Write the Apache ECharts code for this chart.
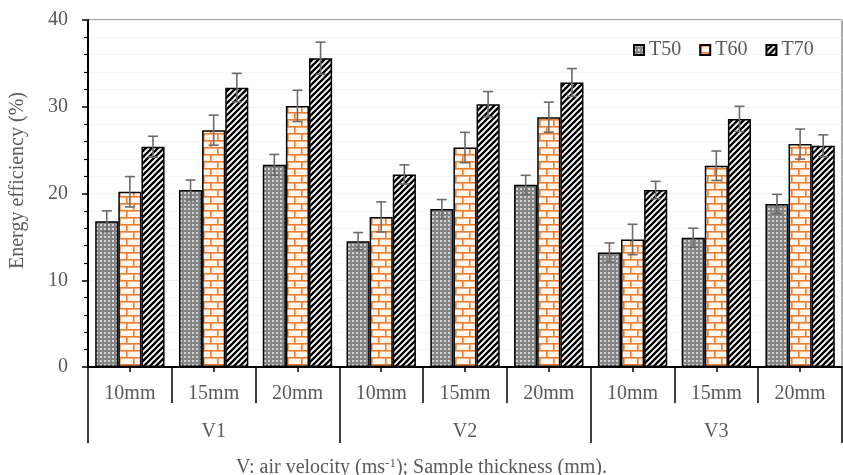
<!DOCTYPE html>
<html>
<head>
<meta charset="utf-8">
<script src="https://cdn.jsdelivr.net/npm/echarts@6/dist/echarts.min.js"></script>
<style>
  html, body { margin: 0; padding: 0; background: #fff; }
  #chart { width: 843px; height: 475px; }
</style>
</head>
<body>
<div id="chart"></div>
<script>
// categories
const thickness = ['10mm', '15mm', '20mm', '10mm', '15mm', '20mm', '10mm', '15mm', '20mm'];
const velocity = ['V1', 'V2', 'V3'];
const seriesNames = ['T50', 'T60', 'T70'];

// energy efficiency (%)
const t50 = [16.8, 20.4, 23.3, 14.5, 18.2, 21.0, 13.2, 14.9, 18.8];
const t60 = [20.2, 27.3, 30.1, 17.3, 25.3, 28.8, 14.7, 23.2, 25.7];
const t70 = [25.4, 32.2, 35.6, 22.2, 30.3, 32.8, 20.4, 28.6, 25.5];

// error bars (+/-)
const e50 = [1.2, 1.15, 1.2, 1.0, 1.1, 1.1, 1.1, 1.1, 1.1];
const e60 = [1.75, 1.73, 1.8, 1.73, 1.75, 1.73, 1.75, 1.7, 1.73];
const e70 = [1.2, 1.65, 1.85, 1.1, 1.45, 1.6, 1.0, 1.45, 1.26];

const yTicks = [0, 10, 20, 30, 40];

const textColor = '#595959';
const font = '"Liberation Serif", "Times New Roman", serif';

function tile(w, h, draw) {
    const c = document.createElement('canvas');
    c.width = w;
    c.height = h;
    draw(c.getContext('2d'), w, h);
    return c;
}

// dotted grey
const dots = tile(4, 4, (ctx, w, h) => {
    ctx.fillStyle = '#858585';
    ctx.fillRect(0, 0, w, h);
    ctx.fillStyle = '#d2d2d2';
    ctx.fillRect(0, 0, 2, 2);
});

// orange brick
const brick = tile(14, 14, (ctx, w, h) => {
    ctx.fillStyle = '#fff6ee';
    ctx.fillRect(0, 0, w, h);
    ctx.fillStyle = '#ed7d31';
    ctx.fillRect(0, 0, w, 1.6);
    ctx.fillRect(0, 7, w, 1.6);
    ctx.fillRect(0, 0, 1.6, 7);
    ctx.fillRect(7, 7, 1.6, 7);
});

// wide upward diagonal
const stripes = tile(6, 6, (ctx, w, h) => {
    ctx.fillStyle = '#fff';
    ctx.fillRect(0, 0, w, h);
    ctx.strokeStyle = '#000';
    ctx.lineWidth = 2.3;
    ctx.beginPath();
    ctx.moveTo(-2, 2); ctx.lineTo(2, -2);
    ctx.moveTo(0, h); ctx.lineTo(w, 0);
    ctx.moveTo(w - 2, h + 2); ctx.lineTo(w + 2, h - 2);
    ctx.stroke();
});

const fills = [dots, brick, stripes];
const values = [t50, t60, t70];
const errors = [e50, e60, e70];
const barFrac = 0.276;

const barSeries = seriesNames.map((name, k) => ({
    name: name,
    type: 'bar',
    xAxisIndex: 0,
    barWidth: (barFrac * 100) + '%',
    barGap: '0%',
    data: values[k],
    itemStyle: {
        color: { image: fills[k], repeat: 'repeat' },
        borderColor: '#000',
        borderWidth: 1.5
    },
    z: 2
}));

const errorSeries = seriesNames.map((name, k) => ({
    name: name + ' err',
    type: 'custom',
    xAxisIndex: 0,
    z: 5,
    silent: true,
    data: values[k].map((v, i) => [i, v, errors[k][i]]),
    renderItem: function (params, api) {
        const bw = api.size([1, 0])[0] * barFrac;
        const c = api.coord([api.value(0), api.value(1)]);
        const x = c[0] + (k - 1) * bw;
        const hi = api.coord([api.value(0), api.value(1) + api.value(2)])[1];
        const lo = api.coord([api.value(0), api.value(1) - api.value(2)])[1];
        const cap = 5;
        const style = { stroke: '#6b6b6b', lineWidth: 1.6 };
        return {
            type: 'group',
            children: [
                { type: 'line', shape: { x1: x, y1: hi, x2: x, y2: lo }, style: style },
                { type: 'line', shape: { x1: x - cap, y1: hi, x2: x + cap, y2: hi }, style: style },
                { type: 'line', shape: { x1: x - cap, y1: lo, x2: x + cap, y2: lo }, style: style }
            ]
        };
    }
}));

const hiddenLine = { show: true, lineStyle: { color: '#000', width: 0, opacity: 0 } };

const option = {
    animation: false,
    backgroundColor: '#fff',
    textStyle: { fontFamily: font },
    title: {
        text: '{a|V: air velocity (ms}{s|-1}{a|); Sample thickness (mm).}',
        left: 'center',
        top: 452,
        textStyle: {
            fontWeight: 'normal',
            rich: {
                a: { fontFamily: font, fontSize: 20, fontWeight: 'normal', color: textColor, lineHeight: 22 },
                s: { fontFamily: font, fontSize: 13, fontWeight: 'normal', color: textColor, padding: [0, 0, 9, 0] }
            }
        }
    },
    legend: {
        data: seriesNames,
        left: 628,
        top: 35,
        itemWidth: 10,
        itemHeight: 10,
        itemGap: 18,
        icon: 'rect',
        textStyle: { fontFamily: font, fontSize: 20, color: textColor }
    },
    grid: {
        left: 83,
        right: 1,
        top: 20,
        bottom: 108,
        show: true,
        borderColor: '#555',
        borderWidth: 1
    },
    xAxis: [{
        type: 'category',
        data: thickness,
        position: 'bottom',
        axisLine: { lineStyle: { color: '#000', width: 2 } },
        axisTick: { show: true, alignWithLabel: true, length: 5, lineStyle: { color: '#000', width: 1.5 } },
        axisLabel: { fontFamily: font, fontSize: 20, color: textColor, margin: 17 },
        splitLine: { show: false }
    }, {
        type: 'category',
        data: thickness,
        position: 'bottom',
        axisLine: hiddenLine,
        axisTick: { show: true, interval: 0, length: 36, lineStyle: { color: '#000', width: 1.5 } },
        axisLabel: { show: false }
    }, {
        type: 'category',
        data: velocity,
        position: 'bottom',
        axisLine: hiddenLine,
        axisTick: { show: true, interval: 0, length: 76, lineStyle: { color: '#000', width: 1.5 } },
        axisLabel: { fontFamily: font, fontSize: 20, color: textColor, margin: 55 }
    }],
    yAxis: {
        type: 'value',
        min: yTicks[0],
        max: yTicks[yTicks.length - 1],
        interval: 10,
        name: 'Energy efficiency (%)',
        nameLocation: 'middle',
        nameGap: 60,
        nameTextStyle: { fontFamily: font, fontSize: 20, color: textColor, padding: [0, 0, 0, 26] },
        axisLine: { show: true, lineStyle: { color: '#000', width: 2 } },
        axisTick: { show: true, length: 6, lineStyle: { color: '#000', width: 1.5 } },
        minorTick: { show: true, splitNumber: 5, length: 4, lineStyle: { color: '#000', width: 1.2 } },
        axisLabel: { fontFamily: font, fontSize: 20, color: textColor, margin: 20 },
        splitLine: { show: true, lineStyle: { color: '#f0f0f0' } },
        minorSplitLine: { show: true, lineStyle: { color: '#f6f6f6' } }
    },
    series: barSeries.concat(errorSeries)
};

echarts.init(document.getElementById('chart')).setOption(option);
</script>
</body>
</html>
